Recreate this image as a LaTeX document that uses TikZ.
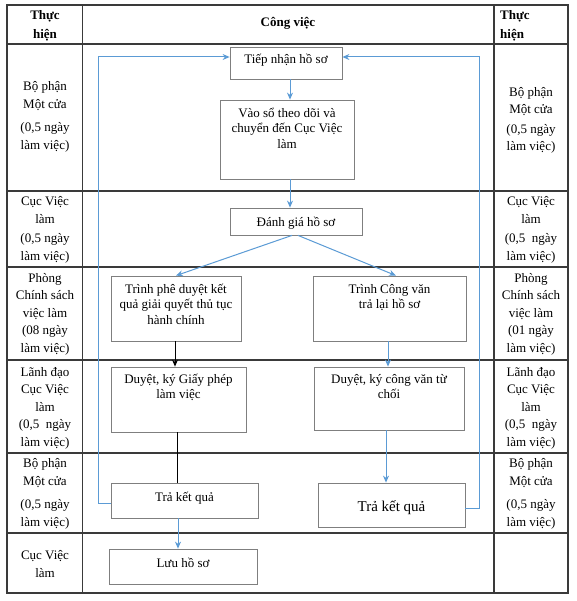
\documentclass[tikz,border=0pt]{standalone}
\usepackage{fontspec}
\setmainfont{Liberation Serif}
\usetikzlibrary{arrows.meta}
\definecolor{flowblue}{HTML}{5B9BD5}
\definecolor{gridline}{HTML}{3A3A3A}
\definecolor{boxline}{HTML}{7F7F7F}
\newcommand\boxtext[4]{\parbox[c][#2][t]{#1}{\centering\vspace*{#3}#4\par}}
\tikzset{
  grid/.style={draw=gridline, line width=1.2pt},
  flowbox/.style={draw=boxline, line width=0.8pt, inner sep=0pt, fill=white},
  cell/.style={align=center, inner sep=0pt, font=\fontsize{13}{17.5}\selectfont},
  head/.style={align=center, inner sep=0pt, font=\fontsize{13}{19}\selectfont\bfseries},
  blueflow/.style={draw=flowblue, line width=1pt},
  bluearrow/.style={blueflow, -{Stealth[length=7pt,width=6pt]}},
  blackarrow/.style={draw=black, line width=1pt, -{Stealth[length=7pt,width=6pt]}},
}
\begin{document}
\begin{tikzpicture}[x=1pt,y=-1pt]
\useasboundingbox (0,0) rectangle (576,601);
\fill[white] (0,0) rectangle (576,601);
% table grid
\draw[grid] (7,5) rectangle (568,593);
\draw[grid] (82.7,5) -- (82.7,593);
\draw[grid] (494,5) -- (494,593);
\foreach \yy in {44,191,267,360,453,533} \draw[grid] (7,\yy) -- (568,\yy);

% header
\node[head] (hl) at (45,25.5) {Thực\\hiện};
\node[head] (hc) at (288,23) {Công việc};
\node[head, align=left, anchor=west] (hr) at (500,25.5) {Thực\\hiện};

% left column
\node[cell] (l1) at (45,117) {Bộ phận\\Một cửa\\[6pt](0,5 ngày\\làm việc)};
\node[cell] (l2) at (45,230) {Cục Việc\\làm\\[2pt](0,5 ngày\\làm việc)};
\node[cell] (l3) at (45,314) {Phòng\\Chính sách\\việc làm\\(08 ngày\\làm việc)};
\node[cell] (l4) at (45,408) {Lãnh đạo\\Cục Việc\\làm\\(0,5\ \ ngày\\làm việc)};
\node[cell] (l5) at (45,494) {Bộ phận\\Một cửa\\[6pt](0,5 ngày\\làm việc)};
\node[cell] (l6) at (45,564) {Cục Việc\\làm};

% right column
\node[cell] (r1) at (531,120.5) {Bộ phận\\Một cửa\\[2pt](0,5 ngày\\làm việc)};
\node[cell] (r2) at (531,230) {Cục Việc\\làm\\[2pt](0,5\ \ ngày\\làm việc)};
\node[cell] (r3) at (531,314) {Phòng\\Chính sách\\việc làm\\(01 ngày\\làm việc)};
\node[cell] (r4) at (531,408) {Lãnh đạo\\Cục Việc\\làm\\(0,5\ \ ngày\\làm việc)};
\node[cell] (r5) at (531,494) {Bộ phận\\Một cửa\\[6pt](0,5 ngày\\làm việc)};

% flow boxes
\begin{scope}[font=\fontsize{13}{15.5}\selectfont]
\node[flowbox] (tiep) at (286,63) {\boxtext{112pt}{32pt}{7.5pt}{Tiếp nhận hồ sơ}};
\node[flowbox] (vao) at (287,139.5) {\boxtext{134pt}{79pt}{8pt}{Vào sổ theo dõi và\\chuyển đến Cục Việc\\làm}};
\node[flowbox] (danh) at (296,221.5) {\boxtext{132pt}{27pt}{9.5pt}{Đánh giá hồ sơ}};
\node[flowbox] (trinhpd) at (176,308.5) {\boxtext{130pt}{65pt}{8pt}{Trình phê duyệt kết\\quả giải quyết thủ tục\\hành chính}};
\node[flowbox] (trinhcv) at (389.5,308.5) {\boxtext{153pt}{65pt}{8pt}{Trình Công văn\\trả lại hồ sơ}};
\node[flowbox] (duyetgp) at (178.5,399.5) {\boxtext{135pt}{65pt}{7pt}{Duyệt, ký Giấy phép\\làm việc}};
\node[flowbox] (duyetcv) at (389,398.5) {\boxtext{150pt}{63pt}{7pt}{Duyệt, ký công văn từ\\chối}};
\node[flowbox] (trakq) at (184.5,500.5) {\boxtext{147pt}{35pt}{9pt}{Trả kết quả}};
\node[flowbox] (trakq2) at (391.5,505) {\boxtext{147pt}{44pt}{18pt}{\fontsize{15}{17}\selectfont Trả kết quả}};
\node[flowbox] (luu) at (183,566.5) {\boxtext{148pt}{35pt}{9pt}{Lưu hồ sơ}};
\end{scope}

% connectors
\draw[bluearrow] (tiep.south -| 290,0) -- (vao.north -| 290,0);
\draw[bluearrow] (vao.south -| 290,0) -- (danh.north -| 290,0);
\draw[bluearrow] (danh.south -| 292,0) -- (trinhpd.north -| 176,0);
\draw[bluearrow] (danh.south -| 298,0) -- (trinhcv.north -| 396,0);
\draw[blackarrow] (trinhpd.south -| 175,0) -- (duyetgp.north -| 175,0);
\draw[bluearrow] (trinhcv.south -| 388,0) -- (duyetcv.north -| 388,0);
\draw[draw=black, line width=1pt] (duyetgp.south -| 177,0) -- (trakq.north -| 177,0);
\draw[bluearrow] (duyetcv.south -| 386,0) -- (trakq2.north -| 386,0);
\draw[bluearrow] (trakq.south -| 178,0) -- (luu.north -| 178,0);
\draw[bluearrow] (trakq.west |- 0,503) -| (98,57) -- (tiep.west |- 0,57);
\draw[bluearrow] (trakq2.east |- 0,508) -| (479,57) -- (tiep.east |- 0,57);
\end{tikzpicture}
\end{document}
